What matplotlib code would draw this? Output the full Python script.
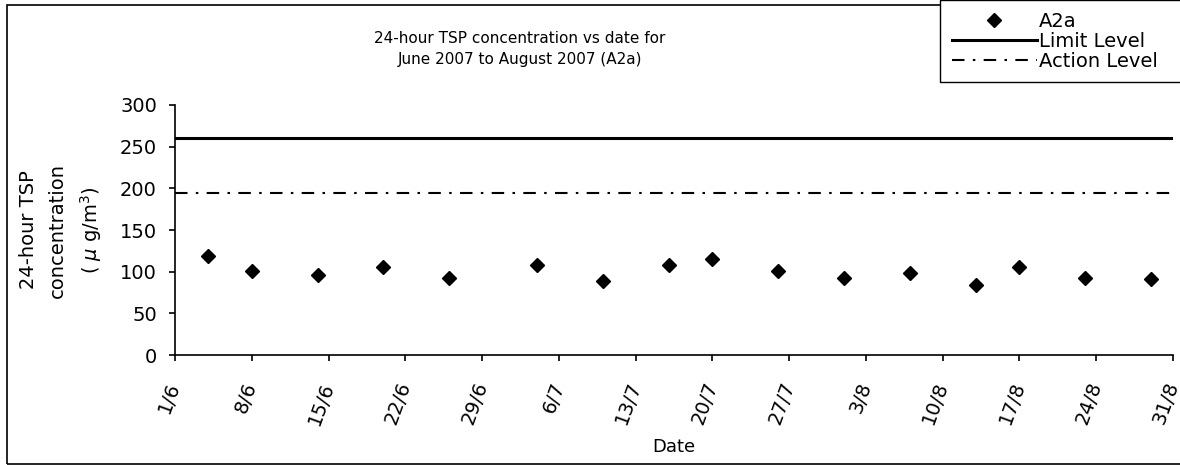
import datetime as dt
import matplotlib
matplotlib.use('Agg')
import matplotlib.pyplot as plt
from matplotlib.lines import Line2D
from matplotlib.patches import Rectangle

plt.rcParams['font.family'] = 'DejaVu Sans'

# sample dates (day, month) in 2007 and measured 24-hour TSP (ug/m3)
DAYS = [4, 8, 14, 20, 26, 4, 10, 16, 20, 26, 1, 7, 13, 17, 23, 29]
MONTHS = [6, 6, 6, 6, 6, 7, 7, 7, 7, 7, 8, 8, 8, 8, 8, 8]
TSP = [118.5, 101, 96, 106, 93, 108, 89, 108, 115, 100.5,
       93, 98, 83.5, 105.5, 93, 91]

LIMIT_LEVEL = 260
ACTION_LEVEL = 194

TICK_DAYS = [1, 8, 15, 22, 29, 6, 13, 20, 27, 3, 10, 17, 24, 31]
TICK_MONTHS = [6, 6, 6, 6, 6, 7, 7, 7, 7, 8, 8, 8, 8, 8]
TICK_LABELS = [f"{d}/{m}" for d, m in zip(TICK_DAYS, TICK_MONTHS)]
Y_TICKS = [0, 50, 100, 150, 200, 250, 300]

dates = [dt.datetime(2007, m, d) for d, m in zip(DAYS, MONTHS)]
tick_dates = [dt.datetime(2007, m, d) for d, m in zip(TICK_DAYS, TICK_MONTHS)]

W, H = 1180, 465
fig = plt.figure(figsize = (W/100, H/100), dpi = 100)
ax = fig.add_axes([175/W, 1-355/H, 998/W, 250/H])

# outer chart border
fig.patches.append(Rectangle((7/W, 1.5/H), 1.0, 1-6.5/H, transform = fig.transFigure,
                             fill = False, lw = 1.2, ec = 'black', zorder = 0))

ax.axhline(LIMIT_LEVEL, color = 'black', lw = 2.2)
ax.axhline(ACTION_LEVEL, color = 'black', lw = 1.5, dashes = (6, 4, 1.2, 4))
ax.plot(dates, TSP, ls = 'none', marker = 'D', ms = 7.5, color = 'black')

ax.set_xlim(tick_dates[0], tick_dates[-1])
ax.set_ylim(0, 300)
ax.set_yticks(Y_TICKS)
ax.set_xticks(tick_dates)
ax.set_xticklabels(TICK_LABELS, rotation = 70, ha = 'right', va = 'center',
                   rotation_mode = 'anchor', fontsize = 14)
ax.tick_params(axis = 'y', labelsize = 14, length = 4, width = 1.2, pad = 9)
ax.tick_params(axis = 'x', length = 4, width = 1.2, pad = 16)
for s in ['top', 'right']:
    ax.spines[s].set_visible(False)
for s in ['left', 'bottom']:
    ax.spines[s].set_linewidth(1.2)

ax.set_xlabel('Date', fontsize = 13)
ax.xaxis.set_label_coords(0.5, -0.33)
ax.set_ylabel("24-hour TSP\nconcentration\n( $\\mu$ g/m$^3$)", fontsize = 14,
              linespacing = 1.6)
ax.yaxis.set_label_coords(-0.071, 0.5)

fig.text(520/W, 1-49/H, "24-hour TSP concentration vs date for\nJune 2007 to August 2007 (A2a)",
         ha = 'center', va = 'center', fontsize = 11, linespacing = 1.5)

handles = [Line2D([], [], ls = 'none', marker = 'D', ms = 7.5, color = 'black'),
           Line2D([], [], color = 'black', lw = 2.2),
           Line2D([], [], color = 'black', lw = 1.5, dashes = (6, 4, 1.2, 4))]
leg = fig.legend(handles, ['A2a', 'Limit Level', 'Action Level'], loc = 'upper left',
                 bbox_to_anchor = (940/W, 1.0, 300/W, 0), bbox_transform = fig.transFigure,
                 mode = 'expand', fontsize = 14, frameon = True, fancybox = False,
                 framealpha = 1, edgecolor = 'black', borderaxespad = 0, borderpad = 0.6,
                 labelspacing = 0.05, handlelength = 4.4, handletextpad = 0.1)
leg.get_frame().set_linewidth(1.0)

plt.savefig('out.png', dpi = 100)
